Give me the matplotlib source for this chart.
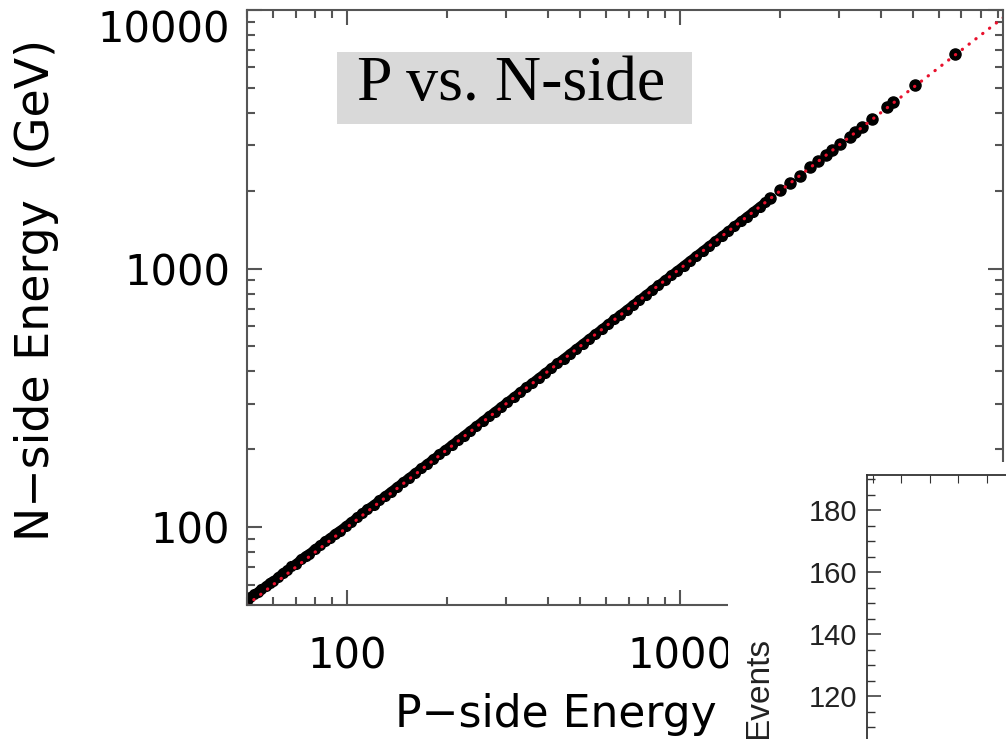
import matplotlib
matplotlib.use("Agg")
import matplotlib.pyplot as plt
from matplotlib.patches import Rectangle
from matplotlib.ticker import LogLocator, FuncFormatter, NullFormatter, MultipleLocator

# P-side vs N-side energies (GeV)
p_band = [50, 51, 52.5, 54, 55, 57, 58.5, 60, 62, 64, 66, 68, 70, 72.5, 75, 77,
          80, 83, 86, 89, 92, 95, 99, 103, 107, 111, 115, 120, 125, 130, 135,
          141, 147, 153, 160, 167, 174, 181, 189, 197, 206, 215, 224, 234, 244,
          255, 266, 278, 290, 303, 316, 330, 345, 360, 376, 393, 410, 428, 447,
          467, 488, 510, 532, 556, 581, 607, 634, 662, 692, 723, 755, 789, 824,
          861, 899, 939, 981, 1025, 1071, 1119, 1169, 1221, 1276, 1333, 1392,
          1455, 1520, 1588, 1660, 1735, 1800]
n_band = [52, 53.5, 55, 56, 57.5, 59, 61, 62, 64, 66.5, 68, 70.5, 72, 75, 77.5, 79,
          82.5, 85, 88.5, 91, 94.5, 97, 101, 105, 109, 113, 117.5, 122, 127, 132, 137,
          143, 149, 155, 162, 169, 176, 183, 191, 199, 208, 217, 226, 236, 246,
          257, 268, 280, 292, 305, 318, 332, 347, 362, 378, 395, 412, 430, 449,
          469, 490, 512, 534, 558, 583, 609, 636, 664, 694, 725, 757, 791, 826,
          863, 901, 941, 983, 1027, 1073, 1121, 1171, 1223, 1278, 1335, 1394,
          1457, 1522, 1590, 1662, 1737, 1802]
p_sparse = [1866, 2000, 2144, 2295, 2460, 2600, 2750, 2865, 3027, 3245, 3360,
            3525, 3775, 4190, 4370, 5087, 6710]
n_sparse = [1875, 2010, 2150, 2290, 2470, 2610, 2740, 2880, 3040, 3230, 3370,
            3540, 3790, 4230, 4400, 5110, 6740]
ref_line = [50, 10000]

y_major = [100, 1000, 10000]
inset_yticks = [120, 140, 160, 180]

W, H = 1006, 739
fig = plt.figure(figsize=(W / 100, H / 100), dpi=100)
fig.patch.set_facecolor("white")

def fx(px):
    return px / W

def fy(py):
    return 1 - py / H

ax = fig.add_axes([fx(247), fy(605), fx(1003) - fx(247), fy(10) - fy(605)])
ax.set_xscale("log")
ax.set_yscale("log")
ax.set_xlim(50, 9330)
ax.set_ylim(50, 10000)

ax.plot(p_band, n_band, "-", color="black", linewidth=6.5, solid_capstyle="round")
ax.plot(p_band, n_band, "o", color="black", markersize=7)
ax.plot(p_sparse, n_sparse, "o", color="black", markersize=8)
ax.plot(ref_line, ref_line, color="#e8112d", linewidth=2.3,
        linestyle=(0, (0.1, 2.6)), dash_capstyle="round")

fmt = FuncFormatter(lambda v, pos: "%d" % round(v))
for axis in (ax.xaxis, ax.yaxis):
    axis.set_major_locator(LogLocator(base=10))
    axis.set_minor_locator(LogLocator(base=10, subs=range(2, 10)))
    axis.set_major_formatter(fmt)
    axis.set_minor_formatter(NullFormatter())
ax.set_yticks(y_major)
ax.set_ylim(50, 10000)
ax.tick_params(which="both", direction="in", top=True, right=True,
               color="#555555", width=1.5)
ax.tick_params(which="major", length=11)
ax.tick_params(which="minor", length=5.8)
ax.tick_params(axis="both", labelsize=30, labelcolor="black")
ax.tick_params(axis="x", pad=22)
ax.tick_params(axis="y", pad=12)
ax.get_yticklabels()[-1].set_verticalalignment("top")
for s in ax.spines.values():
    s.set_color("#555555")
    s.set_linewidth(1.5)

# x label is cut by the pasted inset; only this part shows
fig.text(fx(395), fy(727), "P\u2212side Energy", fontsize=31.7,
         ha="left", va="baseline")
fig.text(fx(37), fy(290), "N\u2212side Energy  (GeV)", fontsize=33,
         rotation=90, ha="center", va="center")

# title box
fig.add_artist(Rectangle((fx(337), fy(124)), fx(692) - fx(337), fy(52) - fy(124),
                         transform=fig.transFigure, facecolor="#d9d9d9",
                         edgecolor="none", zorder=2))
fig.text(fx(511), fy(100), "P vs. N-side", fontsize=46, family="Liberation Serif",
         ha="center", va="baseline", zorder=3)

# pasted inset covering lower right
fig.add_artist(Rectangle((fx(728), 0), 1 - fx(728), fy(462),
                         transform=fig.transFigure, facecolor="white",
                         edgecolor="none", zorder=4))
ins = fig.add_axes([fx(867), fy(882), fx(1152) - fx(867), fy(475) - fy(882)],
                   zorder=5)
ins.set_xlim(-0.2, 9.8)
ins.set_ylim(60, 191.3)
ins.set_yticks(inset_yticks)
ins.yaxis.set_minor_locator(MultipleLocator(5))
ins.xaxis.set_major_locator(MultipleLocator(1))
ins.tick_params(axis="x", which="both", direction="in", top=True, bottom=False,
                labelbottom=False, length=6, color="#333333")
ins.tick_params(axis="y", which="major", direction="in", length=10, width=1.1,
                color="#333333", labelsize=21, pad=7, labelcolor="#222222")
ins.tick_params(axis="y", which="minor", direction="in", length=6, width=1.0,
                color="#333333")
for lab in ins.get_yticklabels():
    lab.set_family("Liberation Sans")
for s in ins.spines.values():
    s.set_color("#333333")
    s.set_linewidth(1.3)

fig.text(fx(759), fy(688), "Events", fontsize=24, family="Liberation Sans",
         rotation=90, ha="center", va="center", color="#222222", zorder=6)

fig.savefig("out.png", dpi=100)
